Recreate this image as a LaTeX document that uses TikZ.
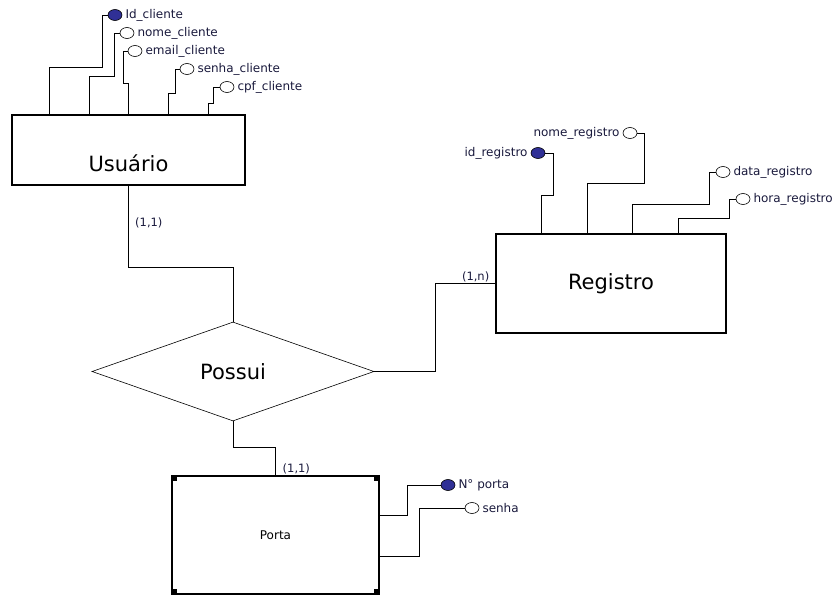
\documentclass[tikz,border=0pt]{standalone}
\usepackage{fontspec}
\setmainfont{DejaVu Sans}
\usetikzlibrary{positioning,shapes.geometric,calc}
\definecolor{erblue}{RGB}{48,48,150}
\definecolor{ertext}{RGB}{25,25,60}

\begin{document}
\begin{tikzpicture}[
  x=1pt, y=-1pt,
  entity/.style={draw, line width=1.1pt, inner sep=0pt,
                 font=\fontsize{21}{24}\selectfont},
  rel/.style={draw, diamond, line width=0.6pt, inner sep=0pt,
              minimum width=282pt, minimum height=99pt,
              font=\fontsize{21}{24}\selectfont},
  attr/.style={draw, ellipse, line width=0.6pt, inner sep=0pt,
               minimum width=14pt, minimum height=11pt},
  key/.style={attr, fill=erblue},
  attrname/.style={font=\fontsize{12}{14}\selectfont, text=ertext, inner sep=1pt},
  card/.style={font=\fontsize{11.5}{13}\selectfont, text=ertext, inner sep=1pt},
  link/.style={line width=0.7pt}
]
\useasboundingbox (0,0) rectangle (836,597);

%% Entities
\node[entity, minimum width=233pt, minimum height=70pt,
      label={[font=\fontsize{21}{24}\selectfont, yshift=-13pt]center:Usuário}]
      (usuario) at (128.5,150) {};
\node[entity, minimum width=230pt, minimum height=99pt] (registro) at (611,283.5) {Registro};
\node[entity, minimum width=207pt, minimum height=118pt,
      font=\fontsize{12}{14}\selectfont] (porta) at (275.5,535) {Porta};
\foreach \c/\d in {north west/{(6,6)}, north east/{(-6,6)},
                   south west/{(6,-6)}, south east/{(-6,-6)}}
  \fill (porta.\c) rectangle ++\d;

%% Relationship
\node[rel] (possui) at (233,371.5) {Possui};

%% Attributes: Usuario
\node[key]  (idc)    at (115,15) {};
\node[attr] (nomec)  at (127,33) {};
\node[attr] (emailc) at (135,51) {};
\node[attr] (senhac) at (187,69) {};
\node[attr] (cpfc)   at (227,87) {};
\node[attrname, right=2pt of idc]    {Id\_cliente};
\node[attrname, right=2pt of nomec]  {nome\_cliente};
\node[attrname, right=2pt of emailc] {email\_cliente};
\node[attrname, right=2pt of senhac] {senha\_cliente};
\node[attrname, right=2pt of cpfc]   {cpf\_cliente};

\draw[link] ($(usuario.north west)+(38,0)$)  |- (102,67) |- (idc.west);
\draw[link] ($(usuario.north west)+(78,0)$)  |- (114,76) |- (nomec.west);
\draw[link] ($(usuario.north west)+(117,0)$) |- (123,83) |- (emailc.west);
\draw[link] ($(usuario.north west)+(157,0)$) |- (175,93) |- (senhac.west);
\draw[link] ($(usuario.north west)+(197,0)$) |- (213,103) |- (cpfc.west);

%% Attributes: Registro
\node[key]  (idr)   at (538,153) {};
\node[attr] (nomer) at (630,133) {};
\node[attr] (datar) at (723,172) {};
\node[attr] (horar) at (743,199) {};
\node[attrname, left=2pt of idr]    {id\_registro};
\node[attrname, left=2pt of nomer]  {nome\_registro};
\node[attrname, right=2pt of datar] {data\_registro};
\node[attrname, right=2pt of horar] {hora\_registro};

\draw[link] ($(registro.north west)+(46,0)$)  |- (553,195) |- (idr.east);
\draw[link] ($(registro.north west)+(92,0)$)  |- (644,183) |- (nomer.east);
\draw[link] ($(registro.north west)+(137,0)$) |- (709,204) |- (datar.west);
\draw[link] ($(registro.north west)+(183,0)$) |- (729,218) |- (horar.west);

%% Attributes: Porta
\node[key]  (nporta) at (448,485) {};
\node[attr] (senhap) at (472,508) {};
\node[attrname, right=2pt of nporta] {N° porta};
\node[attrname, right=2pt of senhap] {senha};

\draw[link] ($(porta.north east)+(0,40)$) -| (407,485) -- (nporta.west);
\draw[link] ($(porta.north east)+(0,81)$) -| (419,508) -- (senhap.west);

%% Relationship links
\draw[link] ($(usuario.south west)+(117,0)$) |- ($(possui.north)+(0,-54)$) -- (possui.north);
\draw[link] (possui.east) -| ($(registro.west)+(-60,0)$) -- (registro.west);
\draw[link] (possui.south) |- ($(porta.north)+(0,-28)$) -- (porta.north);

%% Cardinalities
\node[card, anchor=west] (c1) at (134,223) {(1,1)};
\node[card, anchor=south east] (c2) at ($(registro.west)+(-5,0)$) {(1,n)};
\node[card, anchor=south west] (c3) at ($(porta.north)+(6,0)$) {(1,1)};

\end{tikzpicture}
\end{document}
